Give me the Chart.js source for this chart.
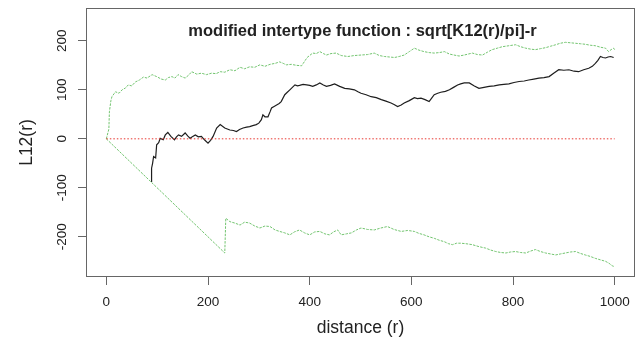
<!DOCTYPE html>
<html><head><meta charset="utf-8">
<script src="https://cdn.jsdelivr.net/npm/chart.js@4.4.1/dist/chart.umd.min.js"></script>
<style>html,body{margin:0;padding:0;background:#fff}#w{width:644px;height:345px;position:relative}</style>
</head><body><div id="w"><canvas id="c"></canvas></div>
<script>
const titleText = 'modified intertype function : sqrt[K12(r)/pi]-r';
const xTitle = 'distance (r)';
const yTitle = 'L12(r)';
const xTicks = [0, 200, 400, 600, 800, 1000];
const yTicks = [-200, -100, 0, 100, 200];

const upperR = [0,5,6,9,11,18,25,31,38,43,50,57,65,73,80,90,99,108,116,122,129,135,141,148,155,162,168,178,187,197,207,216,224,233,243,253,263,272,282,292,302,312,322,332,341,348,354,364,374,384,390,395,406,413,420,427,433,442,452,462,475,488,501,514,527,537,547,557,567,576,586,596,606,615,625,635,645,655,665,675,684,694,704,712,720,730,740,750,759,769,779,792,805,815,825,835,844,854,864,874,884,893,903,913,923,933,942,952,962,972,982,988,993,998,1000];
const upperL = [0,20,55,78,86,96,93,100,104,110,108,116,120,126,124,131,127,122,120,125,127,124,131,127,124,130,137,132,134,131,134,133,137,136,141,139,146,143,147,146,151,148,152,154,157,154,151,152,150,149,158,166,175,174,178,174,171,174,175,170,168,170,171,172,175,170,168,167,166,168,171,178,185,181,178,176,175,176,178,173,171,169,171,173,175,172,171,177,182,185,188,190,192,188,185,183,182,184,186,189,192,195,197,196,195,194,193,191,190,187,185,178,182,185,182];

const obsR = [88,89,91,93,97,99,103,106,112,116,121,127,134,138,142,148,155,160,165,170,175,181,187,193,200,205,210,217,224,233,243,250,256,262,269,276,282,288,295,300,305,308,312,318,322,325,330,335,340,344,351,356,361,366,371,376,380,387,394,400,406,413,420,427,433,441,449,459,469,478,488,495,501,511,521,531,541,550,560,566,573,580,586,596,606,612,619,627,635,640,645,652,658,667,675,683,691,697,704,714,724,733,743,753,763,773,782,792,802,812,822,831,841,851,861,871,880,890,900,910,920,929,939,949,956,962,967,972,977,982,987,992,998];
const obsL = [-87,-60,-50,-36,-39,-12,-8,1,-2,8,13,5,-2,4,8,5,12,6,1,5,8,4,5,-2,-9,-3,5,22,29,22,18,17,15,19,22,24,25,27,29,32,39,49,45,45,55,63,66,69,72,76,90,95,100,105,110,108,109,111,110,109,107,110,114,110,107,109,112,107,103,102,100,96,93,90,86,84,80,77,73,70,66,69,73,78,84,82,83,80,76,83,90,93,95,97,100,105,110,112,114,114,108,103,105,107,108,110,111,112,115,117,118,120,122,124,125,127,134,141,140,141,138,137,141,144,148,154,160,168,166,165,167,168,166];

const lowerR = [0,233,235,243,253,263,272,282,292,302,312,322,332,341,351,361,370,380,390,400,410,420,430,439,447,455,462,472,482,492,501,514,527,540,553,566,580,593,606,615,625,635,645,655,665,673,681,689,697,707,720,733,746,756,766,776,786,795,805,815,825,835,844,854,864,874,884,893,903,913,923,933,942,952,962,972,982,989,995,1000];
const lowerL = [0,-233,-162,-169,-172,-176,-170,-172,-178,-182,-178,-179,-186,-189,-192,-196,-190,-186,-192,-196,-190,-189,-194,-196,-190,-186,-196,-194,-192,-186,-182,-185,-186,-182,-179,-185,-189,-187,-189,-193,-196,-200,-203,-207,-210,-214,-216,-213,-213,-214,-216,-220,-223,-227,-230,-232,-233,-231,-230,-232,-233,-229,-226,-230,-233,-235,-237,-235,-233,-231,-230,-234,-237,-240,-244,-247,-250,-254,-259,-261];

const refR = [0, 1000];
const refL = [0, 0];

const pts = (xs, ys) => xs.map((x, i) => ({x, y: ys[i]}));
const FONT = "'Liberation Sans', Arial, Helvetica, sans-serif";
const TXT = '#222';

const rPlugin = {
  id: 'rPlugin',
  afterDraw(ch) {
    const {ctx, chartArea: a, scales: {y}} = ch;
    ctx.save();
    ctx.strokeStyle = '#666';
    ctx.lineWidth = 1;
    ctx.strokeRect(Math.round(a.left) + 0.5, Math.round(a.top) + 0.5,
      Math.round(a.right - a.left) - 1, Math.round(a.bottom - a.top) - 1);
    ctx.fillStyle = TXT;
    ctx.font = '13.5px ' + FONT;
    ctx.textAlign = 'center';
    ctx.textBaseline = 'middle';
    y.ticks.forEach(t => {
      const py = y.getPixelForValue(t.value);
      ctx.save();
      ctx.translate(a.left - 24, py);
      ctx.rotate(-Math.PI / 2);
      ctx.fillText(String(t.value), 0, 0);
      ctx.restore();
    });
    ctx.font = 'bold 16.5px ' + FONT;
    ctx.textBaseline = 'alphabetic';
    ctx.fillText(titleText, (a.left + a.right) / 2 + 2, a.top + 28);
    ctx.restore();
  }
};

new Chart(document.getElementById('c'), {
  type: 'line',
  data: {
    datasets: [
      {data: pts(refR, refL), borderColor: '#e8352f', borderWidth: 1, borderDash: [1.5, 2], pointRadius: 0},
      {data: pts(upperR, upperL), borderColor: '#72c46f', borderWidth: 1, borderDash: [2.5, 1.2], pointRadius: 0},
      {data: pts(lowerR, lowerL), borderColor: '#72c46f', borderWidth: 1, borderDash: [2.5, 1.2], pointRadius: 0},
      {data: pts(obsR, obsL), borderColor: '#1e1e1e', borderWidth: 1.2, pointRadius: 0}
    ]
  },
  options: {
    responsive: true,
    maintainAspectRatio: false,
    animation: false,
    events: [],
    layout: {padding: {top: 8, right: 9, left: 0, bottom: 0}},
    plugins: {legend: {display: false}, tooltip: {enabled: false}, title: {display: false}},
    elements: {line: {tension: 0, fill: false}},
    scales: {
      x: {
        type: 'linear', min: -40, max: 1040,
        afterBuildTicks: s => { s.ticks = xTicks.map(v => ({value: v})); },
        afterFit: s => { s.height = 68; },
        border: {display: false},
        grid: {drawOnChartArea: false, drawTicks: true, tickLength: 8, color: '#666'},
        ticks: {color: TXT, font: {size: 13.5, family: FONT}, padding: 9, maxRotation: 0, autoSkip: false,
          callback: v => String(v)},
        title: {display: true, text: xTitle, color: TXT, font: {size: 17.5, family: FONT}, padding: {top: 0, bottom: 6}}
      },
      y: {
        type: 'linear', min: -282, max: 267,
        afterBuildTicks: s => { s.ticks = yTicks.map(v => ({value: v})); },
        afterFit: s => { s.width = 86; },
        border: {display: false},
        grid: {drawOnChartArea: false, drawTicks: true, tickLength: 8, color: '#666'},
        ticks: {display: false},
        title: {display: true, text: yTitle, color: TXT, font: {size: 17.5, family: FONT}, padding: {top: 17, bottom: 0}}
      }
    }
  },
  plugins: [rPlugin]
});
</script>
</body></html>
